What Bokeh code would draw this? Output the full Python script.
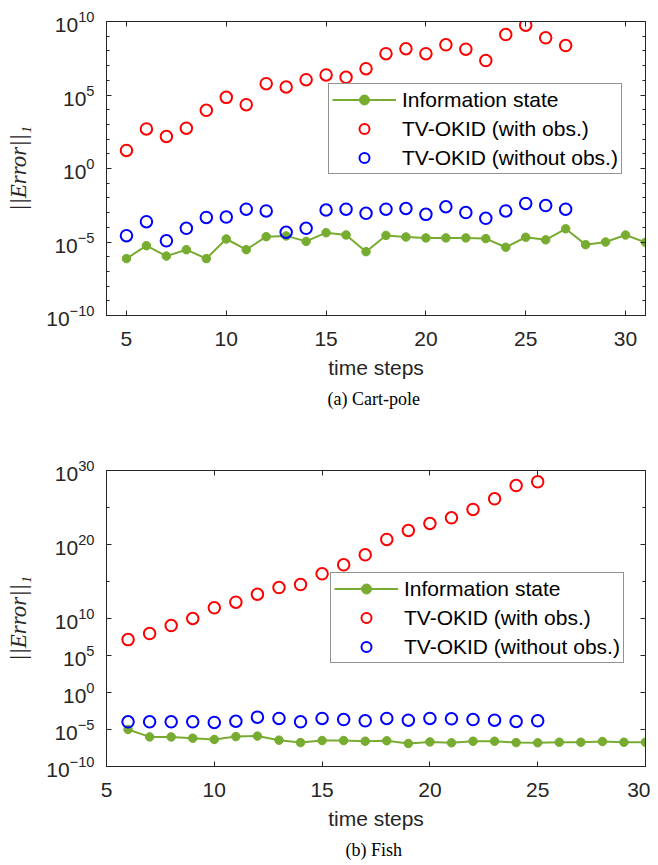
from bokeh.plotting import figure
from bokeh.models import (FixedTicker, LogTickFormatter, LinearAxis, LogAxis, Legend,
                          LegendItem, Title, Range1d)
from bokeh.layouts import column
from bokeh.embed import file_html
from bokeh.resources import INLINE

# ---------------- data: (a) Cart-pole ----------------
cp_info_t = list(range(5, 32))
cp_info = [7.4e-7, 5.6e-6, 1.1e-6, 3.0e-6, 7.4e-7, 1.6e-5, 3.0e-6, 2.3e-5, 2.6e-5,
           1.1e-5, 4.3e-5, 3.0e-5, 2.2e-6, 2.8e-5, 2.2e-5, 1.9e-5, 1.9e-5, 1.9e-5,
           1.7e-5, 4.4e-6, 2.1e-5, 1.4e-5, 7.9e-5, 6.6e-6, 1.0e-5, 3.0e-5, 9.5e-6]
cp_okid_t = list(range(5, 28))
cp_with = [1.7e1, 4.9e2, 1.5e2, 5.5e2, 9.1e3, 6.9e4, 2.2e4, 5.9e5, 3.5e5, 1.1e6,
           2.3e6, 1.6e6, 6.2e6, 6.5e7, 1.4e8, 6.5e7, 2.6e8, 1.3e8, 2.2e7, 1.3e9,
           5.6e9, 7.8e8, 2.3e8]
cp_without = [2.7e-5, 2.4e-4, 1.2e-5, 8.5e-5, 4.7e-4, 5.0e-4, 1.7e-3, 1.3e-3, 4.6e-5,
              8.5e-5, 1.5e-3, 1.7e-3, 8.9e-4, 1.7e-3, 1.9e-3, 7.6e-4, 2.5e-3, 1.0e-3,
              4.1e-4, 1.3e-3, 4.2e-3, 3.0e-3, 1.7e-3]
cp_xticks = [5, 10, 15, 20, 25, 30]
cp_yticks = [1e-10, 1e-5, 1e0, 1e5, 1e10]
cp_yminor = [10.0 ** k for k in range(-10, 11)]

# ---------------- data: (b) Fish ----------------
fi_info_t = list(range(6, 31))
fi_info = [1.0e-5, 1.0e-6, 1.0e-6, 6.8e-7, 4.5e-7, 1.1e-6, 1.3e-6, 3.6e-7, 1.7e-7,
           3.2e-7, 3.2e-7, 2.6e-7, 3.0e-7, 1.3e-7, 2.1e-7, 1.6e-7, 2.6e-7, 2.6e-7,
           1.7e-7, 1.6e-7, 1.9e-7, 1.9e-7, 2.4e-7, 1.9e-7, 1.9e-7]
fi_okid_t = list(range(6, 26))
fi_with = [1.4e7, 9.3e7, 1.1e9, 1.0e10, 2.8e11, 1.6e12, 1.9e13, 1.5e14, 3.9e14,
           1.1e16, 1.8e17, 4.0e18, 4.8e20, 7.8e21, 6.9e22, 4.0e23, 5.4e24, 1.5e26,
           9.3e27, 3.0e28]
fi_without = [1.1e-4, 1.1e-4, 1.1e-4, 1.1e-4, 8.9e-5, 1.3e-4, 4.7e-4, 3.1e-4, 1.1e-4,
              3.1e-4, 2.2e-4, 1.5e-4, 3.1e-4, 1.8e-4, 3.1e-4, 2.8e-4, 2.2e-4, 1.8e-4,
              1.2e-4, 1.5e-4]
fi_xticks = [5, 10, 15, 20, 25, 30]
fi_yticks = [1e-10, 1e-5, 1e0, 1e5, 1e10, 1e20, 1e30]
fi_yminor = [1e15, 1e25]

labels = ["Information state", "TV-OKID (with obs.)", "TV-OKID (without obs.)"]
x_label = "time steps"
y_label = "||Error||\u2081"

GREEN = "#77AC30"
AXC = "#262626"
SANS = "Liberation Sans"


def make_fig(height, top, bottom, xr, yr, xticks, yticks, yminor,
             info_t, info, okid_t, with_obs, without_obs, caption, leg_xy):
    p = figure(width=650, height=height, x_range=Range1d(*xr), y_range=Range1d(*yr),
               y_axis_type="log", output_backend="svg", toolbar_location=None,
               min_border_left=106, min_border_right=5, min_border_top=top,
               min_border_bottom=bottom, background_fill_color="white",
               border_fill_color="white")
    p.xgrid.visible = False
    p.ygrid.visible = False
    p.outline_line_color = AXC
    p.outline_line_width = 1

    xt = FixedTicker(ticks=xticks, minor_ticks=[])
    yt = FixedTicker(ticks=yticks, minor_ticks=yminor)

    def style(ax):
        ax.axis_line_color = AXC
        ax.major_tick_line_color = AXC
        ax.minor_tick_line_color = AXC
        ax.major_tick_in = 5
        ax.major_tick_out = 0
        ax.minor_tick_in = 3
        ax.minor_tick_out = 0
        ax.major_label_text_color = AXC
        ax.major_label_text_font = SANS
        ax.major_label_text_font_size = "21px"
        ax.axis_label_text_color = AXC

    xa = p.xaxis[0]
    xa.ticker = xt
    style(xa)
    xa.major_label_standoff = 16
    xa.axis_label = x_label
    xa.axis_label_text_font = SANS
    xa.axis_label_text_font_size = "21px"
    xa.axis_label_text_font_style = "normal"
    xa.axis_label_standoff = 7

    ya = p.yaxis[0]
    ya.ticker = yt
    ya.formatter = LogTickFormatter()
    style(ya)
    ya.major_label_standoff = 12
    ya.axis_label = y_label
    ya.axis_label_text_font = "Liberation Serif"
    ya.axis_label_text_font_size = "23px"
    ya.axis_label_text_font_style = "italic"
    ya.axis_label_standoff = 12

    top_ax = LinearAxis(ticker=xt)
    style(top_ax)
    top_ax.major_label_text_font_size = "1px"
    top_ax.major_label_text_color = None
    top_ax.major_label_standoff = 0
    p.add_layout(top_ax, "above")
    right_ax = LogAxis(ticker=yt)
    style(right_ax)
    right_ax.major_label_text_font_size = "1px"
    right_ax.major_label_text_color = None
    right_ax.major_label_standoff = 0
    p.add_layout(right_ax, "right")

    ln = p.line(info_t, info, line_color=GREEN, line_width=2)
    dots = p.scatter(info_t, info, marker="circle", size=8.5, fill_color=GREEN,
                     line_color=GREEN)
    red = p.scatter(okid_t, with_obs, marker="circle", size=11.5, fill_color=None,
                    line_color="#FF0000", line_width=2)
    blue = p.scatter(okid_t, without_obs, marker="circle", size=11.5, fill_color=None,
                     line_color="#0000FF", line_width=2)

    leg = Legend(items=[LegendItem(label=labels[0], renderers=[ln, dots]),
                        LegendItem(label=labels[1], renderers=[red]),
                        LegendItem(label=labels[2], renderers=[blue])],
                 location=leg_xy, orientation="vertical")
    leg.label_text_font = SANS
    leg.label_text_font_size = "21px"
    leg.label_text_color = "black"
    leg.glyph_width = 64
    leg.glyph_height = 25
    leg.label_height = 25
    leg.label_standoff = 6
    leg.spacing = 4
    leg.padding = 3
    leg.margin = 0
    leg.border_line_color = AXC
    leg.border_line_width = 1
    leg.background_fill_color = "white"
    leg.background_fill_alpha = 1
    p.add_layout(leg, "center")

    cap = Title(text=caption, align="center", text_font="Liberation Serif",
                text_font_size="18px", text_font_style="normal", text_color="black",
                standoff=11)
    p.add_layout(cap, "below")
    return p


p1 = make_fig(430, 21, 115, (4, 31), (1e-10, 1e10), cp_xticks, cp_yticks, cp_yminor,
              cp_info_t, cp_info, cp_okid_t, cp_with, cp_without, "(a)  Cart-pole",
              (222, 141))
p2 = make_fig(435, 40, 99, (5, 30), (1e-10, 1e30), fi_xticks, fi_yticks, fi_yminor,
              fi_info_t, fi_info, fi_okid_t, fi_with, fi_without, "(b)  Fish",
              (224, 103))

layout = column(p1, p2, spacing=0)
open("out.html", "w").write(file_html(layout, INLINE))
